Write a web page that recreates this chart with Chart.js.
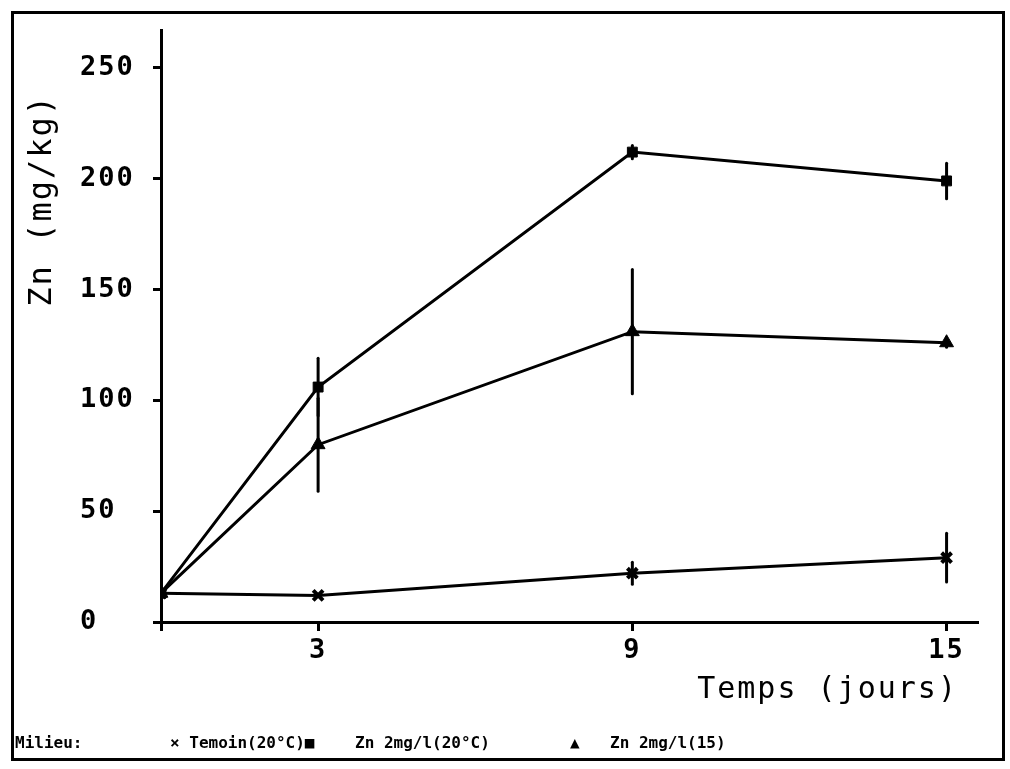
<!DOCTYPE html>
<html>
<head>
<meta charset="utf-8">
<script src="https://cdn.jsdelivr.net/npm/chart.js@4.4.1/dist/chart.umd.min.js"></script>
<style>
  html, body { margin: 0; padding: 0; background: #fff; }
  #wrap { position: relative; width: 1010px; height: 769px; overflow: hidden; }
  #frame { position: absolute; left: 11px; top: 11px; width: 988px; height: 744px; border: 3px solid #000; }
  #chart { position: absolute; left: 0; top: 0; }
  .leg { position: absolute; top: 733px; font: bold 16px "DejaVu Sans Mono", monospace; color: #000; white-space: pre; }
</style>
</head>
<body>
<div id="wrap">
  <div id="frame"></div>
  <canvas id="chart" width="1010" height="769"></canvas>
  <span class="leg" style="left:15px">Milieu:</span>
  <span class="leg" style="left:170px">× Temoin(20°C)■</span>
  <span class="leg" style="left:355px">Zn 2mg/l(20°C)</span>
  <span class="leg" style="left:570px">▲</span>
  <span class="leg" style="left:610px">Zn 2mg/l(15)</span>
</div>
<script>
const days = [0, 3, 9, 15];
const xTicks = [0, 3, 9, 15];
const yTicks = [0, 50, 100, 150, 200, 250];

const temoin = [13, 12, 22, 29];
const temoinErr = [0, 0, 5, 11];
const zn20 = [13, 106, 212, 199];
const zn20Err = [0, 13, 3, 8];
const zn15 = [13, 80, 131, 126];
const zn15Err = [0, 21, 28, 2];

function points(values, errors) {
  return values.map((v, i) => ({ x: days[i], y: v, err: errors[i] }));
}

// vertical error bars, drawn through the chart scales
const errorBars = {
  id: "errorBars",
  afterDatasetsDraw(chart) {
    const { ctx, scales } = chart;
    ctx.save();
    ctx.strokeStyle = "#000";
    ctx.lineWidth = 3;
    ctx.lineCap = "round";
    chart.data.datasets.forEach((ds) => {
      ds.data.forEach((p) => {
        if (!p.err) return;
        const px = scales.x.getPixelForValue(p.x);
        ctx.beginPath();
        ctx.moveTo(px, scales.y.getPixelForValue(p.y - p.err));
        ctx.lineTo(px, scales.y.getPixelForValue(p.y + p.err));
        ctx.stroke();
      });
    });
    ctx.restore();
  },
};

const spacing = {
  id: "spacing",
  beforeDraw(chart) {
    chart.ctx.letterSpacing = "2px";
  },
};

const tickFont = { family: "DejaVu Sans Mono", size: 27, weight: "bold" };
const titleFont = { family: "DejaVu Sans Mono", size: 30 };

new Chart(document.getElementById("chart"), {
  type: "line",
  data: {
    datasets: [
      {
        label: "Temoin(20°C)",
        data: points(temoin, temoinErr),
        pointStyle: "crossRot",
        pointRadius: 7,
        pointBorderWidth: 4,
      },
      {
        label: "Zn 2mg/l(20°C)",
        data: points(zn20, zn20Err),
        pointStyle: "rect",
        pointRadius: 7,
      },
      {
        label: "Zn 2mg/l(15)",
        data: points(zn15, zn15Err),
        pointStyle: "triangle",
        pointRadius: 8,
      },
    ],
  },
  options: {
    responsive: false,
    animation: false,
    layout: { padding: { left: 80, right: 32, top: 30, bottom: 61 } },
    elements: {
      line: { borderColor: "#000", borderWidth: 3, tension: 0, fill: false },
      point: { backgroundColor: "#000", borderColor: "#000", borderWidth: 1 },
    },
    plugins: {
      legend: { display: false },
      tooltip: { enabled: false },
    },
    scales: {
      x: {
        type: "linear",
        min: 0,
        max: 15.6,
        afterBuildTicks: (s) => { s.ticks = xTicks.map((v) => ({ value: v })); },
        afterFit: (s) => { s.height = 86; },
        border: { display: true, color: "#000", width: 3 },
        grid: { drawOnChartArea: false, drawTicks: true, tickLength: 9, tickWidth: 3, tickColor: "#000" },
        ticks: {
          color: "#000",
          font: tickFont,
          padding: 4,
          maxRotation: 0,
          callback: (v) => (v === 0 ? "" : String(v)),
        },
        title: {
          display: true,
          text: "Temps (jours)\u00a0",
          align: "end",
          color: "#000",
          font: titleFont,
          padding: { top: 0, bottom: 0 },
        },
      },
      y: {
        min: 0,
        max: 267,
        afterBuildTicks: (s) => { s.ticks = yTicks.map((v) => ({ value: v })); },
        afterFit: (s) => { s.width = 81; },
        border: { display: true, color: "#000", width: 3 },
        grid: { drawOnChartArea: false, drawTicks: true, tickLength: 8, tickWidth: 3, tickColor: "#000" },
        ticks: { color: "#000", font: tickFont, padding: 14, crossAlign: "far" },
        title: {
          display: true,
          text: "Zn (mg/kg)\u00a0\u00a0\u00a0",
          align: "end",
          color: "#000",
          font: { family: "DejaVu Sans Mono", size: 32 },
          padding: { top: -57, bottom: 0 },
        },
      },
    },
  },
  plugins: [spacing, errorBars],
});
</script>
</body>
</html>
